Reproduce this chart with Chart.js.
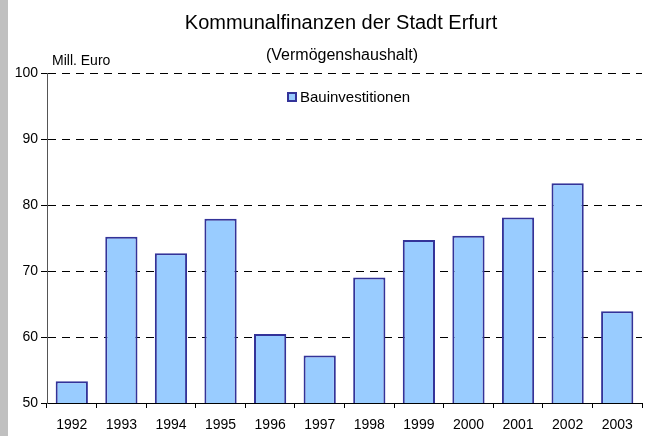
<!DOCTYPE html>
<html>
<head>
<meta charset="utf-8">
<script src="https://cdn.jsdelivr.net/npm/chart.js@4/dist/chart.umd.min.js"></script>
<style>
html,body{margin:0;padding:0;background:#fff;}
#wrap{position:relative;width:665px;height:436px;}
</style>
</head>
<body>
<div id="wrap"><canvas id="c" width="665" height="436"></canvas></div>
<script>
const categories = ['1992','1993','1994','1995','1996','1997','1998','1999','2000','2001','2002','2003'];
const bauinvestitionen = [53.3, 75.2, 72.7, 77.9, 60.45, 57.2, 69.0, 74.7, 75.35, 78.1, 83.3, 63.9];
const seriesName = 'Bauinvestitionen';
const titleText = 'Kommunalfinanzen der Stadt Erfurt';
const subtitleText = '(Vermögenshaushalt)';
const unitText = 'Mill. Euro';
const yMin = 50, yMax = 100, yStep = 10;

const FONT = '"Liberation Sans", Arial, sans-serif';
const FILL = '#99ccff';
const EDGE = '#333399';

const decor = {
  id: 'decor',
  beforeDraw(chart) {
    const ctx = chart.ctx;
    ctx.save();
    ctx.fillStyle = '#ffffff';
    ctx.fillRect(0, 0, chart.width, chart.height);
    ctx.fillStyle = '#c0c0c0';
    ctx.fillRect(0, 0, 8, chart.height);
    ctx.restore();
  },
  afterDraw(chart) {
    const ctx = chart.ctx;
    ctx.save();
    ctx.fillStyle = '#000';
    ctx.textBaseline = 'middle';
    ctx.textAlign = 'center';
    ctx.font = '20px ' + FONT;
    ctx.fillText(titleText, 341, 23);
    ctx.font = '16px ' + FONT;
    ctx.fillText(subtitleText, 342, 56);
    ctx.textAlign = 'left';
    ctx.font = '14px ' + FONT;
    ctx.fillText(unitText, 52, 61);
    // legend
    const ds = chart.data.datasets[0];
    ctx.fillStyle = ds.backgroundColor;
    ctx.fillRect(288, 93, 8, 8);
    ctx.strokeStyle = ds.borderColor;
    ctx.lineWidth = 2;
    ctx.strokeRect(288, 93, 8, 8);
    ctx.fillStyle = '#000';
    ctx.font = '15px ' + FONT;
    ctx.fillText(ds.label, 300, 97.5);
    ctx.restore();
  }
};

new Chart(document.getElementById('c'), {
  type: 'bar',
  data: {
    labels: categories,
    datasets: [{
      label: seriesName,
      data: bauinvestitionen,
      backgroundColor: FILL,
      borderColor: EDGE,
      borderWidth: 2,
      categoryPercentage: 1.0,
      barPercentage: 0.65
    }]
  },
  options: {
    responsive: false,
    animation: false,
    devicePixelRatio: 1,
    layout: { padding: { top: 73, right: 23, left: 0, bottom: 0 } },
    plugins: {
      title: { display: false },
      tooltip: { enabled: false },
      legend: { display: false }
    },
    scales: {
      x: {
        offset: true,
        grid: {
          display: true,
          offset: true,
          drawOnChartArea: false,
          drawTicks: true,
          tickLength: 5,
          tickColor: '#000',
          tickWidth: 1
        },
        border: { display: true, color: '#000', width: 1 },
        ticks: {
          color: '#000',
          padding: 9,
          font: { family: FONT, size: 14 },
          maxRotation: 0
        },
        afterFit(scale) { scale.height = 33; }
      },
      y: {
        min: yMin,
        max: yMax,
        ticks: {
          stepSize: yStep,
          color: '#000',
          padding: 3,
          font: { family: FONT, size: 14 }
        },
        grid: {
          display: true,
          color: '#000',
          lineWidth: 1,
          drawTicks: true,
          tickLength: 6,
          tickColor: '#000',
          tickBorderDash: []
        },
        border: { display: true, color: '#555', width: 1, dash: [8, 6] },
        afterFit(scale) { scale.width = 47; }
      }
    }
  },
  plugins: [decor]
});
</script>
</body>
</html>
